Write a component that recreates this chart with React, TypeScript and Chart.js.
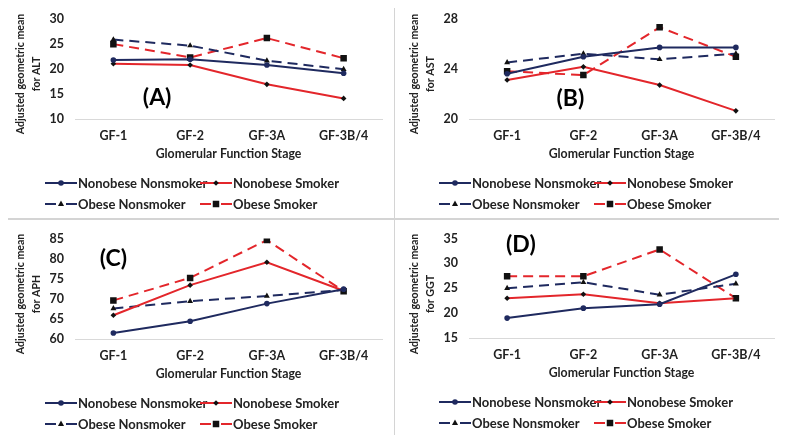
import React, { useEffect, useRef } from "react";
import { Chart, registerables } from "chart.js";

Chart.register(...registerables);

// ---------- data ----------
const categories = ["GF-1", "GF-2", "GF-3A", "GF-3B/4"];
const seriesLabels = ["Nonobese Nonsmoker", "Nonobese Smoker", "Obese Nonsmoker", "Obese Smoker"];
const xAxisTitle = "Glomerular Function Stage";
const yTitlePrefix = "Adjusted geometric mean";

// (A) ALT
const altNonobeseNonsmoker = [21.75, 21.9, 20.75, 19.1];
const altNonobeseSmoker = [21.0, 20.75, 16.9, 14.1];
const altObeseNonsmoker = [25.8, 24.6, 21.6, 19.9];
const altObeseSmoker = [24.9, 22.25, 26.1, 22.1];
const altTicks = [10, 15, 20, 25, 30];

// (B) AST
const astNonobeseNonsmoker = [23.6, 24.95, 25.7, 25.7];
const astNonobeseSmoker = [23.1, 24.15, 22.7, 20.65];
const astObeseNonsmoker = [24.5, 25.2, 24.75, 25.2];
const astObeseSmoker = [23.8, 23.5, 27.3, 24.95];
const astTicks = [20, 24, 28];

// (C) APH
const aphNonobeseNonsmoker = [61.5, 64.4, 68.8, 72.4];
const aphNonobeseSmoker = [65.9, 73.4, 79.1, 72.0];
const aphObeseNonsmoker = [67.6, 69.4, 70.7, 72.2];
const aphObeseSmoker = [69.6, 75.2, 84.6, 71.9];
const aphTicks = [60, 65, 70, 75, 80, 85];

// (D) GGT
const ggtNonobeseNonsmoker = [19.0, 21.0, 21.8, 27.8];
const ggtNonobeseSmoker = [23.0, 23.8, 22.0, 23.0];
const ggtObeseNonsmoker = [25.0, 26.2, 23.7, 25.9];
const ggtObeseSmoker = [27.4, 27.4, 32.8, 23.0];
const ggtTicks = [15, 20, 25, 30, 35];

// ---------- styles ----------
const FONT = "Lato, 'Open Sans', sans-serif";
const TEXT = "#222222";
const NAVY = "#1f2a5f";
const RED = "#e3262b";
const MARK = "#111111";
const BORDER = "#d4d4d4";

const seriesStyles = [
  { color: NAVY, dash: [] as number[], pointStyle: "circle", radius: 2.8, markColor: NAVY },
  { color: RED, dash: [] as number[], pointStyle: "rectRot", radius: 2.8, markColor: MARK },
  { color: NAVY, dash: [10, 6], pointStyle: "triangle", radius: 3.4, markColor: MARK },
  { color: RED, dash: [10, 6], pointStyle: "rect", radius: 4.6, markColor: MARK },
];

type PanelCfg = {
  tag: string;
  biomarker: string;
  ticks: number[];
  series: number[][];
  tagAt: [number, number];
  left: number;
  top: number;
  width: number;
  height: number;
  padTop: number;
  padBottom: number;
};

const panels: PanelCfg[] = [
  { tag: "(A)", biomarker: "ALT", ticks: altTicks, series: [altNonobeseNonsmoker, altNonobeseSmoker, altObeseNonsmoker, altObeseSmoker], tagAt: [0.57, 14.2], left: 0, top: 0, width: 394, height: 218, padTop: 12, padBottom: 54 },
  { tag: "(B)", biomarker: "AST", ticks: astTicks, series: [astNonobeseNonsmoker, astNonobeseSmoker, astObeseNonsmoker, astObeseSmoker], tagAt: [0.83, 21.6], left: 394, top: 0, width: 392, height: 218, padTop: 12, padBottom: 54 },
  { tag: "(C)", biomarker: "APH", ticks: aphTicks, series: [aphNonobeseNonsmoker, aphNonobeseSmoker, aphObeseNonsmoker, aphObeseSmoker], tagAt: [0.0, 80], left: 0, top: 220, width: 394, height: 221, padTop: 10, padBottom: 57 },
  { tag: "(D)", biomarker: "GGT", ticks: ggtTicks, series: [ggtNonobeseNonsmoker, ggtNonobeseSmoker, ggtObeseNonsmoker, ggtObeseSmoker], tagAt: [0.18, 33.7], left: 394, top: 220, width: 392, height: 221, padTop: 10, padBottom: 58 },
];

function drawMarker(ctx: CanvasRenderingContext2D, style: string, x: number, y: number, r: number, color: string) {
  ctx.save();
  ctx.setLineDash([]);
  ctx.fillStyle = color;
  ctx.beginPath();
  if (style === "circle") {
    ctx.arc(x, y, r, 0, Math.PI * 2);
  } else if (style === "rect") {
    const s = r * Math.SQRT1_2;
    ctx.rect(x - s, y - s, 2 * s, 2 * s);
  } else if (style === "rectRot") {
    ctx.moveTo(x, y - r);
    ctx.lineTo(x + r, y);
    ctx.lineTo(x, y + r);
    ctx.lineTo(x - r, y);
    ctx.closePath();
  } else if (style === "triangle") {
    ctx.moveTo(x, y - r);
    ctx.lineTo(x + r * 0.9, y + r * 0.6);
    ctx.lineTo(x - r * 0.9, y + r * 0.6);
    ctx.closePath();
  }
  ctx.fill();
  ctx.restore();
}

function Panel({ cfg }: { cfg: PanelCfg }) {
  const ref = useRef<HTMLCanvasElement | null>(null);

  useEffect(() => {
    if (!ref.current) return;
    const ticks = cfg.ticks;
    const decor = {
      id: "decor",
      afterDraw(chart: any) {
        const ctx: CanvasRenderingContext2D = chart.ctx;
        const area = chart.chartArea;
        const xs = chart.scales.x;
        const ys = chart.scales.y;
        ctx.save();
        // y-axis title (two lines, rotated)
        ctx.save();
        ctx.fillStyle = TEXT;
        ctx.font = `bold 10.6px ${FONT}`;
        ctx.textAlign = "center";
        ctx.textBaseline = "middle";
        ctx.translate(20.5, 74);
        ctx.rotate(-Math.PI / 2);
        ctx.fillText(yTitlePrefix, 0, 0);
        ctx.fillText(`for ${cfg.biomarker}`, 0, 16.5);
        ctx.restore();
        // panel tag
        ctx.fillStyle = "#000";
        ctx.font = `bold 23px ${FONT}`;
        ctx.textAlign = "center";
        ctx.textBaseline = "middle";
        ctx.fillText(cfg.tag, xs.getPixelForValue(cfg.tagAt[0]), ys.getPixelForValue(cfg.tagAt[1]));
        // legend
        ctx.font = `bold 13px ${FONT}`;
        ctx.textAlign = "left";
        const colX = [area.left - 30, area.left + 125];
        const rowY = [area.bottom + 64, area.bottom + 85];
        seriesLabels.forEach((label, i) => {
          const st = seriesStyles[i];
          const x = colX[i % 2];
          const y = rowY[Math.floor(i / 2)];
          ctx.save();
          ctx.strokeStyle = st.color;
          ctx.lineWidth = 2;
          ctx.setLineDash(st.dash.length ? [11, 10] : []);
          ctx.beginPath();
          ctx.moveTo(x, y);
          ctx.lineTo(x + 32, y);
          ctx.stroke();
          ctx.restore();
          drawMarker(ctx, st.pointStyle, x + 16, y, st.radius, st.markColor);
          ctx.fillStyle = TEXT;
          ctx.textBaseline = "middle";
          ctx.fillText(label, x + 33, y + 0.5);
        });
        ctx.restore();
      },
    };

    const chart = new Chart(ref.current, {
      type: "line",
      data: {
        labels: categories,
        datasets: cfg.series.map((values, i) => ({
          label: seriesLabels[i],
          data: values,
          borderColor: seriesStyles[i].color,
          borderWidth: 2,
          borderDash: seriesStyles[i].dash,
          pointStyle: seriesStyles[i].pointStyle as any,
          pointRadius: seriesStyles[i].radius,
          pointBackgroundColor: seriesStyles[i].markColor,
          pointBorderColor: seriesStyles[i].markColor,
          pointBorderWidth: 0,
          tension: 0,
          fill: false,
        })),
      },
      options: {
        responsive: false,
        animation: false,
        devicePixelRatio: 1,
        layout: { padding: { top: cfg.padTop, bottom: cfg.padBottom, left: 0, right: 12 } },
        plugins: { legend: { display: false }, tooltip: { enabled: false } },
        scales: {
          x: {
            type: "category",
            offset: true,
            grid: { display: false, drawTicks: false },
            border: { display: true, color: "#d9d9d9", width: 1 },
            ticks: { color: TEXT, font: { family: FONT, size: 12.5, weight: "bold" }, padding: 9.2, maxRotation: 0, autoSkip: false },
            title: { display: true, text: xAxisTitle, color: TEXT, font: { family: FONT, size: 12.3, weight: "bold" }, padding: { top: 0, bottom: 2.9 } },
            afterFit: (scale: any) => { scale.height = 45; },
          },
          y: {
            type: "linear",
            min: ticks[0],
            max: ticks[ticks.length - 1],
            grid: { display: false, drawTicks: false },
            border: { display: false },
            afterBuildTicks: (scale: any) => { scale.ticks = ticks.map((v) => ({ value: v })); },
            ticks: { color: TEXT, font: { family: FONT, size: 12.5, weight: "bold" }, padding: 11 },
            title: { display: false },
            afterFit: (scale: any) => { scale.width = 75; },
          },
        },
      },
      plugins: [decor],
    } as any);
    return () => chart.destroy();
  }, [cfg]);

  return (
    <canvas
      ref={ref}
      width={cfg.width}
      height={cfg.height}
      style={{ position: "absolute", left: cfg.left, top: cfg.top, width: cfg.width, height: cfg.height }}
    />
  );
}

export default function App() {
  const line = (style: React.CSSProperties) => (
    <div style={{ position: "absolute", background: BORDER, ...style }} />
  );
  return (
    <div style={{ position: "relative", width: 787, height: 443, margin: "-8px", background: "#fff", overflow: "hidden" }}>
      {panels.map((p) => (
        <Panel key={p.tag} cfg={p} />
      ))}
      {line({ left: 0, top: 0, width: 787, height: 1 })}
      {line({ left: 394, top: 0, width: 1, height: 443 })}
      {line({ left: 785, top: 0, width: 1, height: 443 })}
      {line({ left: 0, top: 218, width: 787, height: 2 })}
      {line({ left: 0, top: 440, width: 787, height: 1 })}
    </div>
  );
}
